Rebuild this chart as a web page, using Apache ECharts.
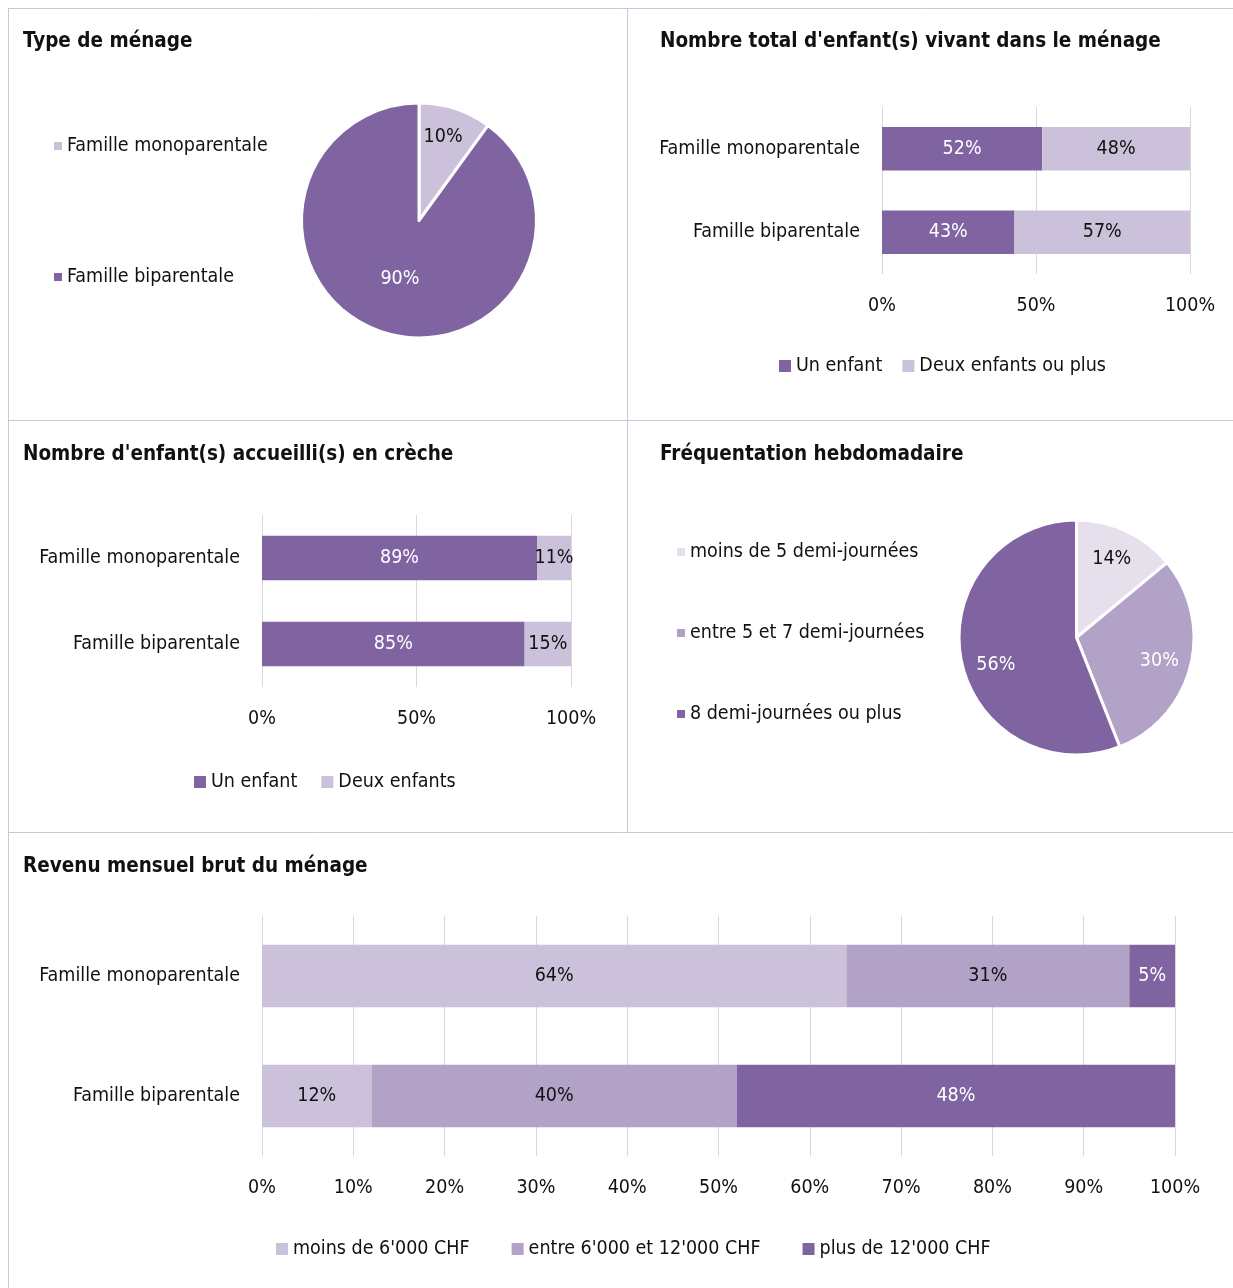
<!DOCTYPE html>
<html>
<head>
<meta charset="utf-8">
<script src="https://cdn.jsdelivr.net/npm/echarts@6/dist/echarts.min.js"></script>
<style>
  html, body { margin: 0; padding: 0; background: #fff; }
  #chart { width: 1233px; height: 1288px; }
</style>
</head>
<body>
<div id="chart"></div>
<script>
// ---- Data ----
const householdTypes = ['Famille monoparentale', 'Famille biparentale'];
const householdShares = [10, 90];

const familyCats = ['Famille monoparentale', 'Famille biparentale'];

const totalChildSeries = ['Un enfant', 'Deux enfants ou plus'];
const totalOneChild = [52, 43];
const totalTwoPlus = [48, 57];

const crecheSeries = ['Un enfant', 'Deux enfants'];
const crecheOne = [89, 85];
const crecheTwo = [11, 15];

const attendanceCats = ['moins de 5 demi-journées', 'entre 5 et 7 demi-journées', '8 demi-journées ou plus'];
const attendanceShares = [14, 30, 56];

const incomeSeries = ["moins de 6'000 CHF", "entre 6'000 et 12'000 CHF", "plus de 12'000 CHF"];
const incomeLow = [64, 12];
const incomeMid = [31, 40];
const incomeHigh = [5, 48];

const titles = ['Type de ménage', "Nombre total d'enfant(s) vivant dans le ménage",
  "Nombre d'enfant(s) accueilli(s) en crèche", 'Fréquentation hebdomadaire', 'Revenu mensuel brut du ménage'];

// ---- Style ----
const FONT = "'Liberation Sans Narrow', 'Arial Narrow', 'DejaVu Sans Condensed', sans-serif";
const DARK = '#8064A2', LIGHT = '#CCC1DA', MID = '#B3A2C7', PALE = '#E6E0EC';
const TXT = '#111111';
const BORDER = '#CEC5DF';
const GRIDC = '#D9D9D9';
const FS = 19.5;

const chart = echarts.init(document.getElementById('chart'), null, { renderer: 'canvas' });

function titleAt(text, left, cy) {
  return { text, left, top: cy - 9, padding: 0,
    textStyle: { fontFamily: FONT, fontSize: 20.5, fontWeight: 'bold', color: TXT, lineHeight: 22 } };
}
function valAxis(gi, interval) {
  return { type: 'value', gridIndex: gi, min: 0, max: 100, interval,
    axisLine: { show: false }, axisTick: { show: false },
    splitLine: { show: true, lineStyle: { color: GRIDC, width: 1 } },
    axisLabel: { formatter: '{value}%', fontFamily: FONT, fontSize: FS, color: TXT, margin: 22 } };
}
function catAxis(gi) {
  return { type: 'category', gridIndex: gi, data: familyCats, inverse: true,
    axisLine: { show: false }, axisTick: { show: false },
    axisLabel: { fontFamily: FONT, fontSize: FS, color: TXT, margin: 22 } };
}
function barSeries(name, data, gi, stack, color, labelColor) {
  return { type: 'bar', name, data, xAxisIndex: gi, yAxisIndex: gi, stack, barWidth: '52%',
    itemStyle: { color }, emphasis: { disabled: true },
    label: { show: true, position: 'inside', formatter: '{c}%', fontFamily: FONT, fontSize: FS, color: labelColor } };
}
const legendText = { fontFamily: FONT, fontSize: FS, color: TXT, lineHeight: 22 };

const pie1Shift = [[5, -25], [0, 0]];
const pie2Shift = [[9, -23], [23, 8], [-20, 16]];

const option = {
  animation: false,
  backgroundColor: '#fff',
  textStyle: { fontFamily: FONT },
  title: [
    titleAt(titles[0], 23, 40),
    titleAt(titles[1], 660, 40),
    titleAt(titles[2], 23, 453),
    titleAt(titles[3], 660, 453),
    titleAt(titles[4], 23, 865)
  ],
  graphic: [
    { type: 'line', shape: { x1: 8, y1: 8.5, x2: 1233, y2: 8.5 }, style: { stroke: BORDER, lineWidth: 1 } },
    { type: 'line', shape: { x1: 8.5, y1: 8, x2: 8.5, y2: 1288 }, style: { stroke: BORDER, lineWidth: 1 } },
    { type: 'line', shape: { x1: 627.5, y1: 8, x2: 627.5, y2: 832 }, style: { stroke: BORDER, lineWidth: 1 } },
    { type: 'line', shape: { x1: 8, y1: 420.5, x2: 1233, y2: 420.5 }, style: { stroke: BORDER, lineWidth: 1 } },
    { type: 'line', shape: { x1: 8, y1: 832.5, x2: 1233, y2: 832.5 }, style: { stroke: BORDER, lineWidth: 1 } }
  ],
  legend: [
    { data: householdTypes, orient: 'vertical', left: 54, top: 135, itemGap: 109,
      icon: 'rect', itemWidth: 8, itemHeight: 8, itemStyle: { borderWidth: 0 }, textStyle: legendText, selectedMode: false, padding: 0 },
    { data: totalChildSeries, orient: 'horizontal', left: 779, top: 355, itemGap: 20,
      icon: 'rect', itemWidth: 12, itemHeight: 12, textStyle: legendText, selectedMode: false, padding: 0 },
    { data: crecheSeries, orient: 'horizontal', left: 194, top: 771, itemGap: 24,
      icon: 'rect', itemWidth: 12, itemHeight: 12, textStyle: legendText, selectedMode: false, padding: 0 },
    { data: attendanceCats, orient: 'vertical', left: 677, top: 541, itemGap: 59,
      icon: 'rect', itemWidth: 8, itemHeight: 8, itemStyle: { borderWidth: 0 }, textStyle: legendText, selectedMode: false, padding: 0 },
    { data: incomeSeries, orient: 'horizontal', left: 276, top: 1238, itemGap: 42,
      icon: 'rect', itemWidth: 12, itemHeight: 12, textStyle: legendText, selectedMode: false, padding: 0 }
  ],
  grid: [
    { left: 882, width: 308, top: 107, height: 167 },
    { left: 262, width: 309, top: 515, height: 172 },
    { left: 262, width: 913, top: 916, height: 240 }
  ],
  xAxis: [valAxis(0, 50), valAxis(1, 50), valAxis(2, 10)],
  yAxis: [catAxis(0), catAxis(1), catAxis(2)],
  series: [
    { type: 'pie', center: [419, 220.5], radius: 117.5, startAngle: 90, clockwise: true,
      emphasis: { disabled: true }, labelLine: { show: false },
      itemStyle: { borderColor: '#fff', borderWidth: 3 },
      label: { show: true, position: 'inside', formatter: '{c}%', fontFamily: FONT, fontSize: FS },
      labelLayout: (p) => ({ dx: pie1Shift[p.dataIndex][0], dy: pie1Shift[p.dataIndex][1] }),
      data: householdTypes.map((n, i) => ({ name: n, value: householdShares[i],
        itemStyle: { color: [LIGHT, DARK][i] }, label: { color: [TXT, '#fff'][i] } })) },
    barSeries(totalChildSeries[0], totalOneChild, 0, 's0', DARK, '#fff'),
    barSeries(totalChildSeries[1], totalTwoPlus, 0, 's0', LIGHT, TXT),
    barSeries(crecheSeries[0], crecheOne, 1, 's1', DARK, '#fff'),
    barSeries(crecheSeries[1], crecheTwo, 1, 's1', LIGHT, TXT),
    { type: 'pie', center: [1076.5, 637.5], radius: 117.5, startAngle: 90, clockwise: true,
      emphasis: { disabled: true }, labelLine: { show: false },
      itemStyle: { borderColor: '#fff', borderWidth: 3 },
      label: { show: true, position: 'inside', formatter: '{c}%', fontFamily: FONT, fontSize: FS },
      labelLayout: (p) => ({ dx: pie2Shift[p.dataIndex][0], dy: pie2Shift[p.dataIndex][1] }),
      data: attendanceCats.map((n, i) => ({ name: n, value: attendanceShares[i],
        itemStyle: { color: [PALE, MID, DARK][i] }, label: { color: [TXT, '#fff', '#fff'][i] } })) },
    barSeries(incomeSeries[0], incomeLow, 2, 's2', LIGHT, TXT),
    barSeries(incomeSeries[1], incomeMid, 2, 's2', MID, TXT),
    barSeries(incomeSeries[2], incomeHigh, 2, 's2', DARK, '#fff')
  ]
};
chart.setOption(option);
</script>
</body>
</html>
